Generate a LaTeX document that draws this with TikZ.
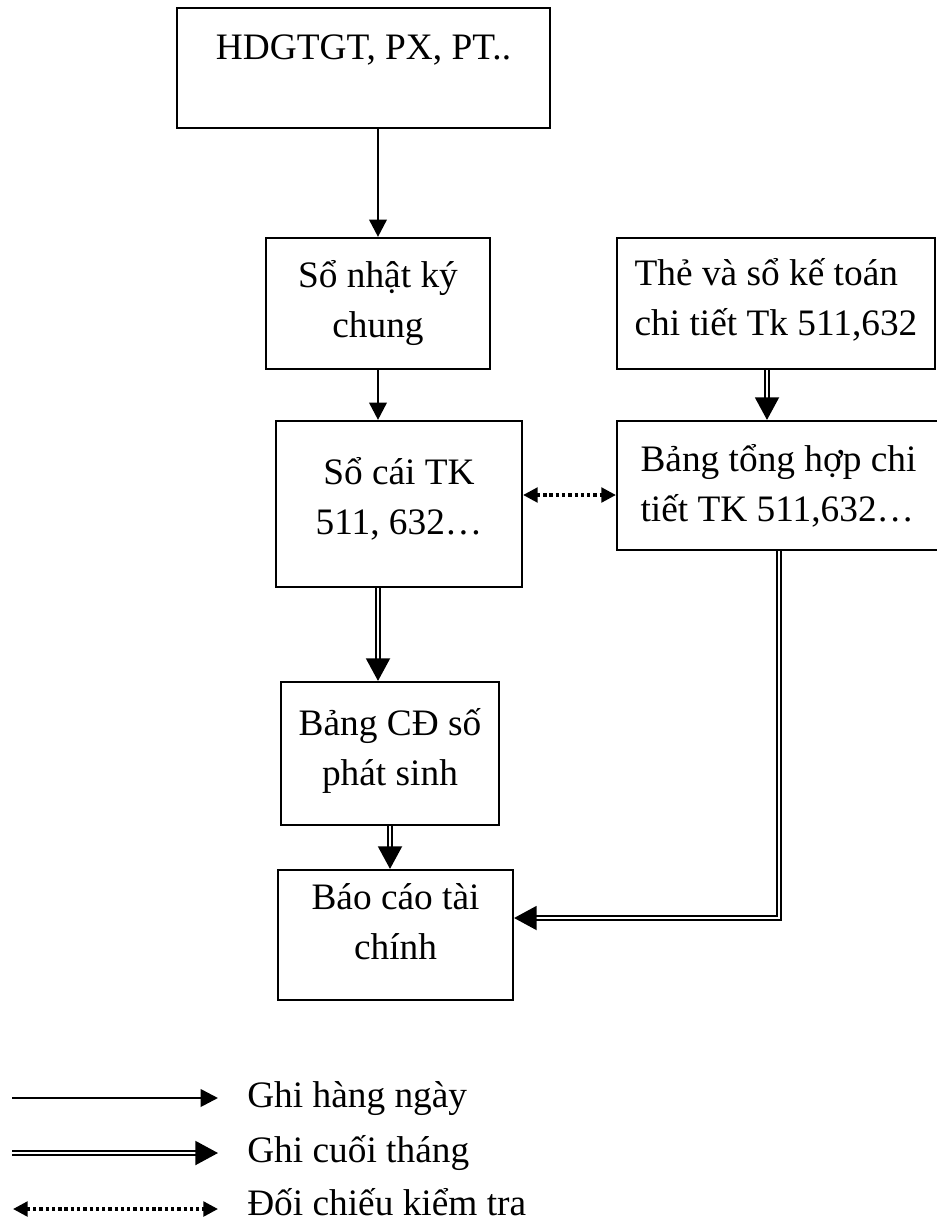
\documentclass[tikz,border=0pt]{standalone}
\usepackage{fontspec}
\setmainfont{Liberation Serif}
\usetikzlibrary{arrows.meta, positioning}

\begin{document}
\begin{tikzpicture}[
  x=0.75pt, y=-0.75pt,
  box/.style={draw, line width=1.6pt, align=center, inner sep=0pt,
              font=\fontsize{28}{37.5}\selectfont},
  daily/.style={line width=2pt, -{Triangle[length=13pt, width=13pt]}},
  monthly/.style={double, double distance=1.5pt, line width=1.5pt,
                  -{Triangle[length=17pt, width=18pt]}},
  check/.style={line width=2.5pt, dash pattern=on 2.5pt off 2.2pt,
                {Triangle[length=11pt, width=11pt]}-{Triangle[length=11pt, width=11pt]}},
  legtext/.style={anchor=base west, inner sep=0pt, font=\fontsize{28}{37.5}\selectfont}
]
  \useasboundingbox (0,0) rectangle (936,1225);

  % chung tu goc
  \node[box, minimum width=279.75pt, minimum height=90pt] (hd) at (363.5,68)
    {HDGTGT, PX, PT..\\[-6pt]\mbox{}};
  % so sach
  \node[box, minimum width=168pt, minimum height=98.25pt] (nk) at (378,303.5)
    {Sổ nhật ký\\chung\\[-30pt]\mbox{}};
  \node[box, minimum width=238.5pt, minimum height=98.25pt, align=left] (the) at (776,303.5)
    {Thẻ và sổ kế toán\\chi tiết Tk 511,632\\[-28pt]\mbox{}};
  \node[box, minimum width=184.5pt, minimum height=124.5pt] (socai) at (399,504)
    {Sổ cái TK\\511, 632…\\[-25pt]\mbox{}};
  \node[box, minimum width=242.25pt, minimum height=96.75pt, align=left] (tonghop) at (778.5,485.5)
    {Bảng tổng hợp chi\\tiết TK 511,632…};
  % bao cao
  \node[box, minimum width=163.5pt, minimum height=107.25pt] (cd) at (390,753.5)
    {Bảng CĐ số\\phát sinh\\[-27pt]\mbox{}};
  \node[box, minimum width=176.25pt, minimum height=97.5pt] (bc) at (395.5,935)
    {Báo cáo tài\\chính\\[-18pt]\mbox{}};

  \draw[daily] (hd.south -| nk.north) -- (nk.north);
  \draw[daily] (nk.south) -- (nk.south |- socai.north);
  \draw[monthly] ([xshift=-6.75pt]the.south) -- ([xshift=-6.75pt]the.south |- tonghop.north);
  \draw[check] ([yshift=6.75pt]socai.east) -- ([yshift=6.75pt]socai.east -| tonghop.west);
  \draw[monthly] (socai.south -| nk.south) -- (nk.south |- cd.north);
  \draw[monthly] (cd.south) -- (cd.south |- bc.north);
  \draw[monthly] (tonghop.south) |- ([yshift=12.75pt]bc.east);

  % chu thich
  \coordinate (l1a) at (12,1098);  \coordinate (l1b) at (218,1098);
  \coordinate (l2a) at (12,1153);  \coordinate (l2b) at (218,1153);
  \coordinate (l3a) at (13,1209);  \coordinate (l3b) at (218,1209);
  \draw[daily] (l1a) -- (l1b);
  \draw[monthly] (l2a) -- (l2b);
  \draw[check] (l3a) -- (l3b);
  \node[legtext] (g1) at (247,1107) {Ghi hàng ngày};
  \node[legtext] (g2) at (247,1162) {Ghi cuối tháng};
  \node[legtext] (g3) at (247,1215) {Đối chiếu kiểm tra};
\end{tikzpicture}
\end{document}
